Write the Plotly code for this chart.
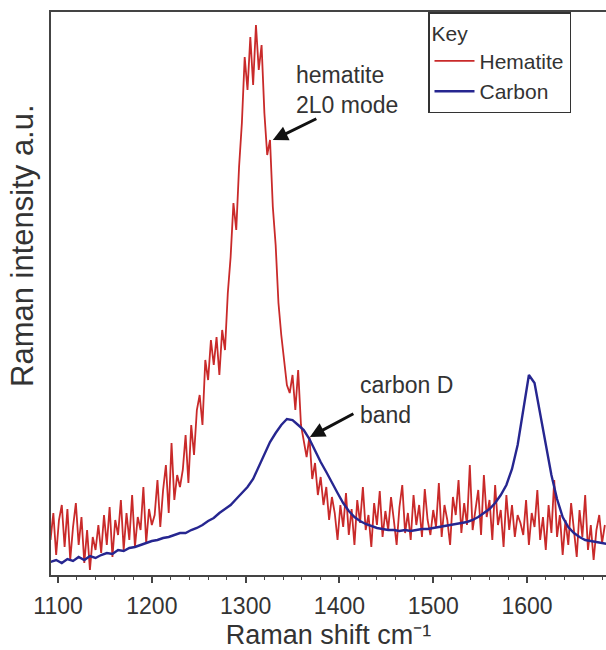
import plotly.graph_objects as go

# ---------------- data ----------------
# Hematite spectrum: sampled every 3 cm-1 starting at 1092 cm-1
hematite_start = 1092
hematite_step = 3
hematite_intensity = [
    # 1092-1140
    35, 62, 20, 55, 70, 28, 66, 15, 48, 72, 30, 58, 12, 45, 5, 38, 25,
    # 1143-1200
    50, 22, 60, 30, 68, 18, 55, 40, 75, 25, 62, 35, 80, 28, 58, 45, 88, 32, 66, 50,
    # 1203-1230
    60, 95, 48, 85, 110, 62, 132, 75, 100, 88,
    # 1233-1248
    105, 140, 92, 150, 120, 165,
    # 1251-1263
    180, 150, 215, 195, 235,
    # 1266-1278
    210, 238, 200, 245, 225,
    # 1281-1392 (2L0 mode peak)
    282, 318, 372, 345, 408, 452, 518, 485, 538, 490, 550, 505, 530, 462, 420,
    435, 368, 330, 272, 240, 212, 190, 182, 200, 165, 205, 150, 132, 118, 138,
    96, 112, 80, 98, 70, 88, 55, 78,
    # 1395-1683
    62, 35, 70, 48, 82, 40, 66, 30, 75, 52, 88, 45, 60, 28, 72, 50, 84, 38, 64,
    45, 78, 55, 30, 68, 90, 42, 62, 35, 80, 50, 70, 38, 86, 55, 40,
    65, 48, 92, 38, 70, 55, 30, 78, 60, 95, 42, 72, 50, 110, 45, 68,
    85, 40, 100, 58, 75, 35, 90, 50, 65, 28, 80, 45, 70, 38, 60, 52,
    40, 75, 30, 62, 48, 85, 35, 58, 25, 70, 42, 95, 38, 60, 20, 55,
    30, 72, 45, 18, 65, 38, 80, 25, 50, 15, 45, 60, 32, 50,
]

# Carbon spectrum: sampled every 6 cm-1 starting at 1092 cm-1
carbon_start = 1092
carbon_step = 6
carbon_intensity = [
    13, 15, 12, 16, 14, 18, 15, 19, 17, 20,
    22, 21, 25, 24, 27, 28, 30, 32, 34, 35,
    37, 38, 40, 42, 42, 45, 47, 50, 54, 57,
    62, 66, 70, 76, 82, 88, 96, 108, 120, 133,
    142, 150, 156, 155, 150, 145, 136, 124, 113, 103,
    92, 82, 72, 64, 58, 54, 51, 49, 47, 46,
    45, 45, 44, 45, 44, 45, 46, 46, 47, 48,
    49, 50, 51, 52, 53, 55, 58, 62, 66, 72,
    80, 90, 106, 130, 165, 200, 192, 160, 128, 100,
    76, 58, 48, 42, 38, 35, 34, 33, 32, 31,
]

hematite_shift = [hematite_start + hematite_step * i for i in range(len(hematite_intensity))]
carbon_shift = [carbon_start + carbon_step * i for i in range(len(carbon_intensity))]

series_names = ["Hematite", "Carbon"]
x_tick_values = [1100, 1200, 1300, 1400, 1500, 1600]
x_tick_labels = ["1100", "1200", "1300", "1400", "1500", "1600"]

# ---------------- figure ----------------
FONT = "Liberation Sans, Arial, sans-serif"
TXT = "#333333"
AX = "#444444"

fig = go.Figure()
fig.add_trace(go.Scatter(
    x=hematite_shift, y=hematite_intensity, mode="lines", name=series_names[0],
    line=dict(color="#c92a2a", width=1.8),
))
fig.add_trace(go.Scatter(
    x=carbon_shift, y=carbon_intensity, mode="lines", name=series_names[1],
    line=dict(color="#262690", width=2.4),
))

fig.update_layout(
    width=606, height=650,
    margin=dict(l=51, r=0, t=12, b=75),
    paper_bgcolor="white", plot_bgcolor="white",
    font=dict(family=FONT, color=TXT),
    showlegend=True,
    legend=dict(
        title=dict(text="Key", font=dict(size=21, color=TXT)),
        font=dict(size=21, color=TXT),
        x=(428 - 51) / 555, xanchor="left",
        y=1, yanchor="top",
        bgcolor="white", bordercolor="#333333", borderwidth=1.5,
        tracegroupgap=0, itemwidth=40,
    ),
    xaxis=dict(
        range=[1092.5, 1684.2],
        tickmode="array", tickvals=x_tick_values, ticktext=x_tick_labels,
        ticks="outside", ticklen=6, tickwidth=1.5, tickcolor=AX,
        tickfont=dict(size=23, color=TXT, family=FONT),
        ticklabelstandoff=4,
        minor=dict(dtick=20, tick0=1100, ticks="outside", ticklen=3.5,
                   tickwidth=1, tickcolor=AX, showgrid=False),
        showline=True, linecolor=AX, linewidth=1.5, mirror=True,
        showgrid=False, zeroline=False,
        title=dict(text="Raman shift cm⁻¹",
                   font=dict(size=27, color=TXT, family=FONT), standoff=8),
    ),
    yaxis=dict(
        range=[0, 563],
        showticklabels=False, ticks="",
        showline=True, linecolor=AX, linewidth=1.5, mirror=False,
        showgrid=False, zeroline=False,
    ),
)

# y axis title (placed as in the reference, above the axis centre)
fig.add_annotation(
    text="Raman intensity a.u.", xref="paper", yref="paper",
    x=(22 - 51) / 555, y=(575 - 246) / 563, xanchor="center", yanchor="middle",
    textangle=-90, showarrow=False, font=dict(size=31, color=TXT, family=FONT),
)

# peak labels
fig.add_annotation(
    text="hematite<br>2L0 mode", x=1352, y=485, xref="x", yref="y",
    xanchor="left", yanchor="middle", align="left", showarrow=False,
    font=dict(size=23, color=TXT, family=FONT),
)
fig.add_annotation(
    text="carbon D<br>band", x=1420, y=175, xref="x", yref="y",
    xanchor="left", yanchor="middle", align="left", showarrow=False,
    font=dict(size=23, color=TXT, family=FONT),
)
# arrows
fig.add_annotation(
    x=1329, y=435, xref="x", yref="y", ax=45, ay=-22, text="",
    showarrow=True, arrowhead=2, arrowsize=1, arrowwidth=3, arrowcolor="#111111",
)
fig.add_annotation(
    x=1368.5, y=138, xref="x", yref="y", ax=45, ay=-24, text="",
    showarrow=True, arrowhead=2, arrowsize=1, arrowwidth=3, arrowcolor="#111111",
)

fig.write_html(
    "out.html",
    config={"displayModeBar": False},
    post_script="document.body.style.margin='0px';document.body.style.overflow='hidden';",
)
